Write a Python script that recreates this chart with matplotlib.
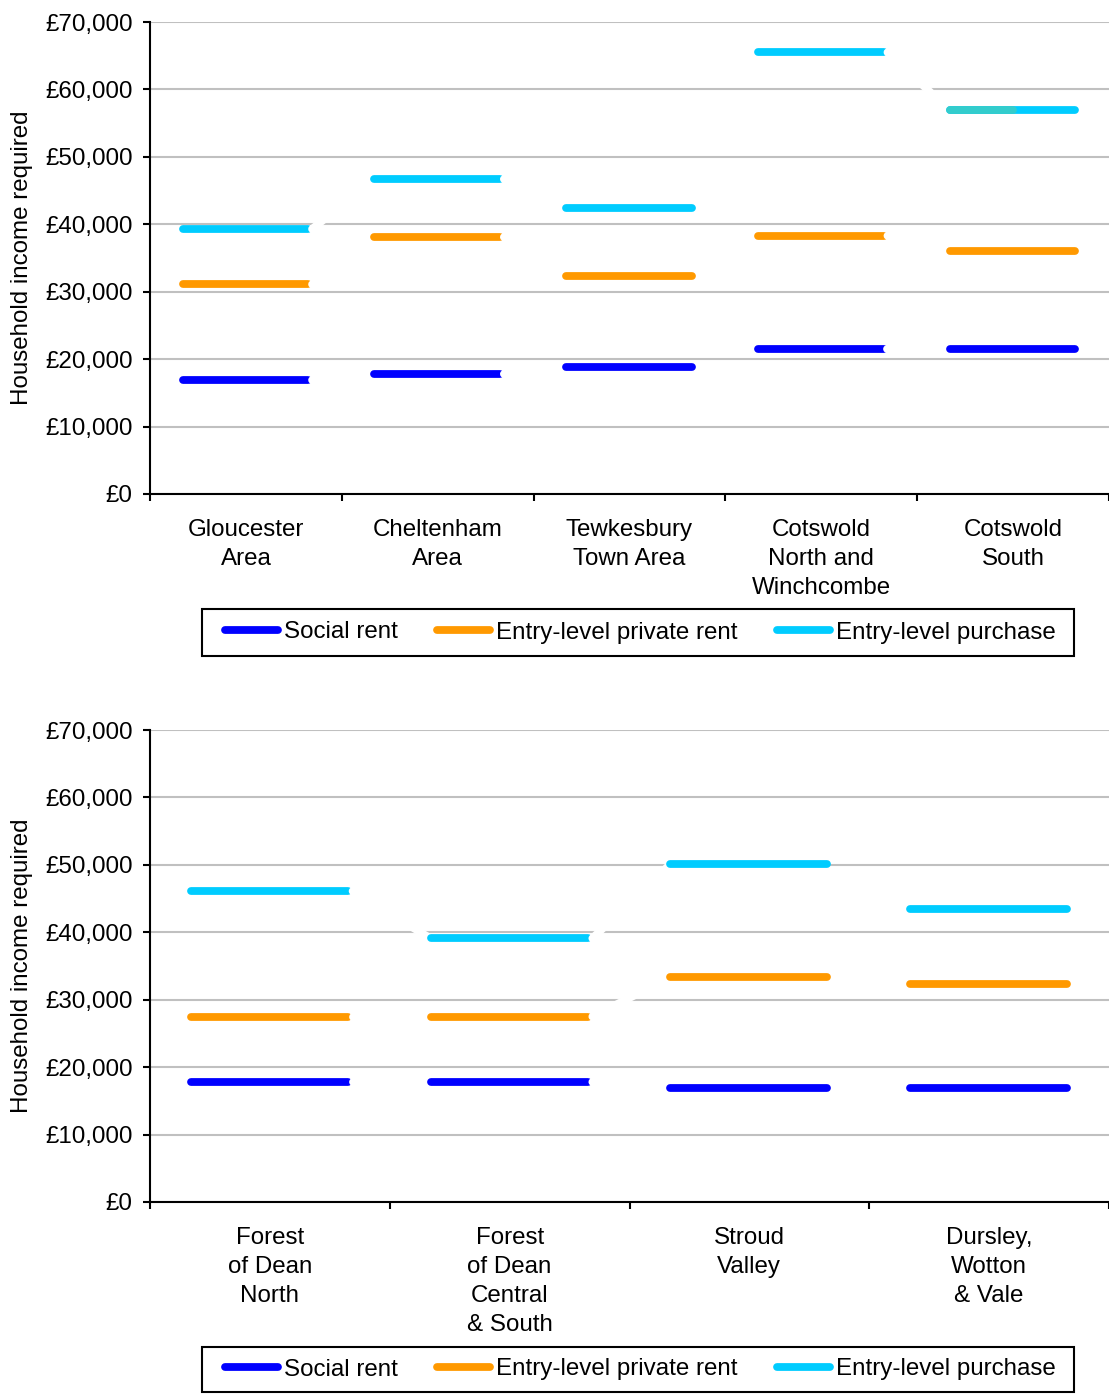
import numpy as np
import matplotlib.pyplot as plt
from matplotlib.patches import Rectangle
from matplotlib.ticker import FuncFormatter

plt.rcParams['font.family'] = ['Liberation Sans', 'DejaVu Sans']

# data (household income required, GBP)
top_areas = ["Gloucester\nArea", "Cheltenham\nArea", "Tewkesbury\nTown Area",
             "Cotswold\nNorth and\nWinchcombe", "Cotswold\nSouth"]
top_social = [16900, 17800, 18900, 21500, 21500]
top_private = [31100, 38100, 32300, 38300, 36000]
top_purchase = [39300, 46700, 42400, 65500, 56900]
top_links = [True, True, False, True]

bottom_areas = ["Forest\nof Dean\nNorth", "Forest\nof Dean\nCentral\n& South",
                "Stroud\nValley", "Dursley,\nWotton\n& Vale"]
bottom_social = [17800, 17800, 16900, 16900]
bottom_private = [27500, 27500, 33300, 32400]
bottom_purchase = [46100, 39100, 50100, 43400]
bottom_links = [True, True, False]

series_names = ["Social rent", "Entry-level private rent", "Entry-level purchase"]
series_colours = ["#0000FF", "#FF9900", "#00CCFF"]
split_colour = "#33CCCC"   # left half of Cotswold South purchase

W, H = 1109, 1394
FS = 17.4
LW = 5.6


def px_axes(fig, left, top, right, bottom):
    return fig.add_axes([left / W, 1 - bottom / H, (right - left) / W, (bottom - top) / H])


#draws one panel of flat lines per area
def draw_panel(ax, areas, series, links, split=None):
    n = len(areas)
    x0, x1 = 0.17, 0.825
    for yv in range(0, 70001, 10000):
        ax.axhline(yv, color="#C0C0C0", lw=1.5, zorder=0.5)
    for i in range(n):
        for s, vals in enumerate(series):
            ax.plot([i + x0, i + x1], [vals[i], vals[i]], color=series_colours[s], lw=LW,
                    solid_capstyle="round", zorder=3 + 2 * i)
            if split is not None and s == 2 and i == split:
                ax.plot([i + x0, i + (x0 + x1) / 2], [vals[i], vals[i]], color=split_colour,
                        lw=LW, solid_capstyle="round", zorder=3.5 + 2 * i)
            if i < n - 1 and links[i]:
                ax.plot([i + x1 + 0.02, i + 1 + x0], [vals[i], vals[i + 1]], color="white",
                        lw=LW, solid_capstyle="round", zorder=4 + 2 * i)
    ax.set_xlim(0, n)
    ax.set_ylim(0, 70000)
    ax.set_yticks(range(0, 70001, 10000))
    ax.yaxis.set_major_formatter(FuncFormatter(lambda v, p: "£{:,.0f}".format(v)))
    ax.set_xticks(np.arange(n + 1))
    ax.set_xticklabels([])
    ax.set_xticks(np.arange(n) + 0.5, areas, minor=True)
    ax.tick_params(axis="x", which="minor", length=0, pad=18, labelsize=FS)
    ax.tick_params(axis="x", which="major", length=5, width=1.5, direction="out")
    ax.tick_params(axis="y", length=5, width=1.5, pad=7.5, labelsize=FS)
    for t in ax.get_xticklabels(minor=True):
        t.set_linespacing(1.41)
    for side in ["top", "right"]:
        ax.spines[side].set_visible(False)
    for side in ["left", "bottom"]:
        ax.spines[side].set_linewidth(1.5)
        ax.spines[side].set_zorder(20)
    ax.set_ylabel("Household income required", fontsize=FS)
    ax.yaxis.set_label_coords(-0.122, 0.5)


def add_legend(fig, top, bottom):
    handles = [plt.Line2D([], [], color=c, lw=LW, solid_capstyle="round") for c in series_colours]
    fig.legend(handles, series_names, loc="center", ncol=3, fontsize=FS,
               bbox_to_anchor=(640.5 / W, 1 - (top + bottom) / 2 / H), frameon=False,
               handlelength=2.2, handletextpad=0.25, columnspacing=1.62,
               borderpad=0, borderaxespad=0)
    fig.patches.append(Rectangle((202 / W, 1 - bottom / H), 872 / W, (bottom - top) / H,
                                 transform=fig.transFigure, fill=False,
                                 edgecolor="black", lw=1.5))


fig = plt.figure(figsize=(W / 100, H / 100), dpi=100)

ax1 = px_axes(fig, 150, 22, 1109, 494)
draw_panel(ax1, top_areas, [top_social, top_private, top_purchase], top_links, split=4)
add_legend(fig, 609, 656)

ax2 = px_axes(fig, 150, 730, 1109, 1202)
draw_panel(ax2, bottom_areas, [bottom_social, bottom_private, bottom_purchase], bottom_links)
add_legend(fig, 1347, 1392)

fig.savefig("out.png", dpi=100)
